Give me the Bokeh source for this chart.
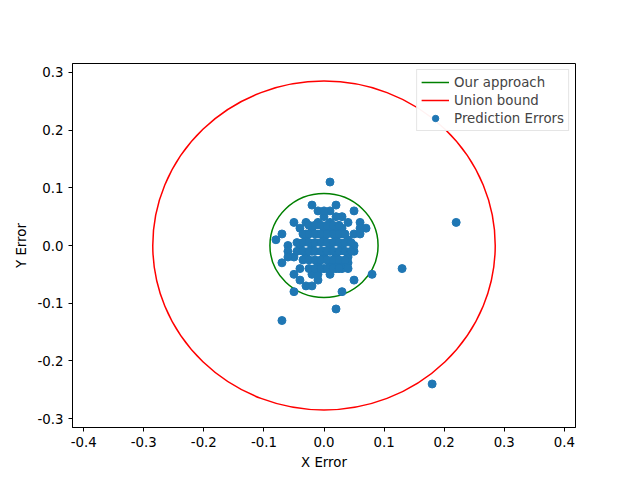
from bokeh.plotting import figure
from bokeh.models import Range1d, Legend, LegendItem, FixedTicker, NumeralTickFormatter
from bokeh.embed import file_html
from bokeh.resources import INLINE

x_err = [0.22, 0.18, 0.13, 0.08, -0.07, 0.02, 0.01, -0.05, 0.03, 0.05, 0.05, -0.05, -0.02, 0.07, 0.06,
         -0.08, -0.07, -0.07, -0.06, -0.06, -0.05, -0.04, -0.04, -0.03, -0.03, -0.03, -0.02, -0.02, -0.02,
         -0.01, -0.01, -0.01, -0.01, 0.0, 0.0, 0.0, 0.0, 0.01, 0.01, 0.01, 0.01, 0.02, 0.02, 0.02, 0.02,
         0.03, 0.03, 0.03, 0.04, 0.04, 0.04, 0.05, 0.05, 0.06, -0.04, -0.03, -0.02, 0.0, 0.02, 0.03,
         -0.01, 0.01, 0.02, 0.04, -0.05, -0.03, 0.0, 0.01, 0.03, 0.05, -0.02, 0.0, 0.02, -0.04, 0.06,
         -0.06, 0.04, -0.01, 0.01, 0.03,
         -0.045, -0.035, -0.025, -0.015, -0.005, 0.005, 0.015, 0.025, 0.035, 0.045,
         -0.045, -0.035, -0.025, -0.015, -0.005, 0.005, 0.015, 0.025, 0.035, 0.045,
         -0.035, -0.025, -0.015, -0.005, 0.005, 0.015, 0.025, 0.035,
         -0.035, -0.025, -0.015, -0.005, 0.005, 0.015, 0.025, 0.035,
         -0.025, -0.015, -0.005, 0.005, 0.015, 0.025, -0.025, -0.015, -0.005, 0.005, 0.015, 0.025]
y_err = [0.04, -0.24, -0.04, -0.05, -0.13, -0.11, 0.11, -0.08, -0.08, -0.06, 0.06, 0.04, 0.07, 0.03, 0.04,
         0.01, 0.02, -0.03, 0.0, -0.01, -0.02, 0.03, -0.04, 0.01, -0.02, 0.04, 0.0, 0.03, -0.05,
         0.06, 0.02, -0.03, -0.06, 0.05, 0.01, -0.02, -0.04, 0.06, 0.0, -0.01, -0.05, 0.07, 0.03, -0.02, -0.04,
         0.05, 0.0, -0.03, 0.04, 0.01, -0.02, 0.02, -0.01, 0.02, -0.06, -0.07, -0.07, 0.06, 0.05, -0.04,
         0.04, 0.03, 0.01, -0.03, -0.05, 0.02, -0.01, -0.03, 0.02, 0.0, -0.01, 0.03, -0.03, 0.0, 0.03,
         -0.02, -0.04, -0.05, 0.04, 0.03,
         0.005, 0.005, 0.005, 0.005, 0.005, 0.005, 0.005, 0.005, 0.005, 0.005,
         -0.01, -0.01, -0.01, -0.01, -0.01, -0.01, -0.01, -0.01, -0.01, -0.01,
         0.02, 0.02, 0.02, 0.02, 0.02, 0.02, 0.02, 0.02,
         -0.025, -0.025, -0.025, -0.025, -0.025, -0.025, -0.025, -0.025,
         0.035, 0.035, 0.035, 0.035, 0.035, 0.035, -0.04, -0.04, -0.04, -0.04, -0.04, -0.04]
our_radius = 0.09
union_radius = 0.285

p = figure(width=631, height=472, output_backend="svg", toolbar_location=None,
           x_range=Range1d(-0.4186, 0.4186), y_range=Range1d(-0.3154, 0.3154),
           min_border_left=72, min_border_top=63, min_border_right=56, min_border_bottom=44)
p.grid.visible = False
p.outline_line_color = "black"
p.xaxis.axis_label = "X Error"
p.yaxis.axis_label = "Y Error"
p.xaxis.ticker = FixedTicker(ticks=[-0.4, -0.3, -0.2, -0.1, 0.0, 0.1, 0.2, 0.3, 0.4])
p.yaxis.ticker = FixedTicker(ticks=[-0.3, -0.2, -0.1, 0.0, 0.1, 0.2, 0.3])
for ax in (p.xaxis, p.yaxis):
    ax.formatter = NumeralTickFormatter(format="0.0")
    ax.minor_tick_line_color = None
    ax.major_label_text_font = "DejaVu Sans"
    ax.major_label_text_font_size = "10pt"
    ax.major_label_text_color = "black"
    ax.axis_label_text_font = "DejaVu Sans"
    ax.axis_label_text_font_size = "10pt"
    ax.axis_label_text_font_style = "normal"
    ax.axis_label_text_color = "black"
    ax.major_tick_in = 0
    ax.major_tick_out = 4
    ax.axis_line_color = "black"
    ax.major_tick_line_color = "black"

g = p.ellipse(x=[0], y=[0], width=[2 * our_radius], height=[2 * our_radius],
              fill_alpha=0, line_color="green", line_width=1.5)
r = p.ellipse(x=[0], y=[0], width=[2 * union_radius], height=[2 * union_radius],
              fill_alpha=0, line_color="red", line_width=1.5)
s = p.scatter(x_err, y_err, size=8, color="#1f77b4")
gl = p.line([0, 0], [0, 0], line_color="green", line_width=1.5, visible=False)
rl = p.line([0, 0], [0, 0], line_color="red", line_width=1.5, visible=False)

legend = Legend(items=[LegendItem(label="Our approach", renderers=[gl]),
                       LegendItem(label="Union bound", renderers=[rl]),
                       LegendItem(label="Prediction Errors", renderers=[s])],
                location="top_right", label_text_font="DejaVu Sans", label_text_font_size="10pt",
                spacing=2, padding=4, margin=6, border_line_color="#cccccc",
                glyph_width=28, label_height=16, glyph_height=16)
p.add_layout(legend)

open("out.html", "w").write(file_html(p, INLINE))
